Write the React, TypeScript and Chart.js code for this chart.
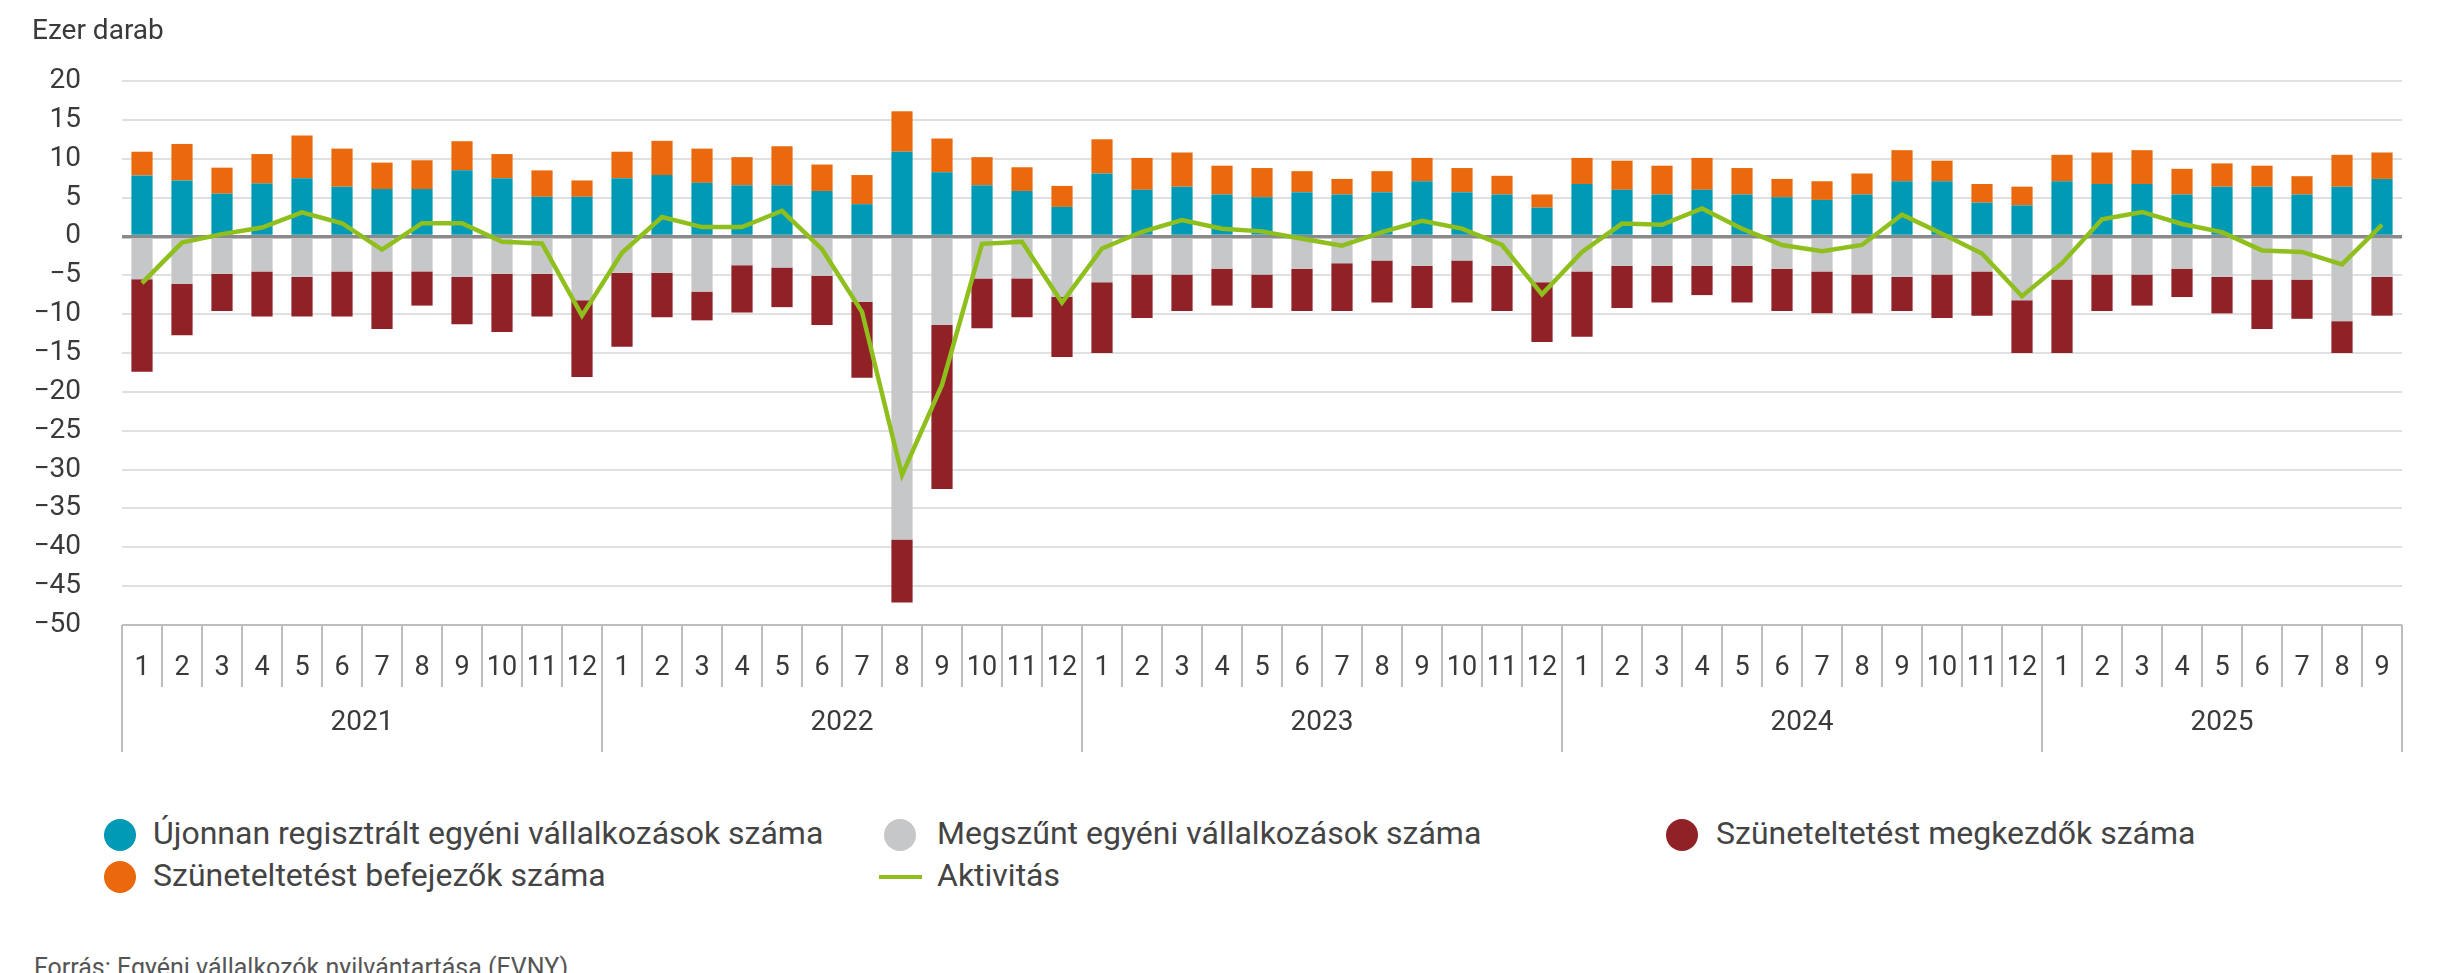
import React, { useEffect, useRef } from 'react';
import { Chart, registerables } from 'chart.js';

Chart.register(...registerables);

// ---- data ----
const years = ['2021', '2022', '2023', '2024', '2025'];
const monthsPerYear = [12, 12, 12, 12, 9];

// Újonnan regisztrált egyéni vállalkozások száma (ezer)
const newRegistered = [
  7.85, 7.2, 5.5, 6.8, 7.5, 6.4, 6.1, 6.1, 8.5, 7.5, 5.1, 5.1,
  7.5, 7.9, 6.9, 6.6, 6.6, 5.85, 4.15, 10.9, 8.25, 6.6, 5.85, 3.8,
  8.1, 6.0, 6.4, 5.4, 5.05, 5.7, 5.4, 5.7, 7.1, 5.7, 5.4, 3.7,
  6.75, 6.0, 5.4, 6.0, 5.4, 5.05, 4.7, 5.4, 7.1, 7.1, 4.35, 4.0,
  7.1, 6.75, 6.75, 5.4, 6.4, 6.4, 5.4, 6.4, 7.4,
];
// Megszűnt egyéni vállalkozások száma (ezer)
const closed = [
  -5.5, -6.1, -4.8, -4.5, -5.2, -4.5, -4.5, -4.5, -5.2, -4.8, -4.8, -8.2,
  -4.7, -4.7, -7.1, -3.7, -4.0, -5.05, -8.4, -39.0, -11.4, -5.4, -5.4, -7.8,
  -5.9, -4.9, -4.9, -4.15, -4.9, -4.15, -3.45, -3.1, -3.8, -3.1, -3.8, -5.9,
  -4.5, -3.8, -3.8, -3.8, -3.8, -4.15, -4.5, -4.9, -5.2, -4.9, -4.5, -8.2,
  -5.55, -4.9, -4.9, -4.15, -5.2, -5.55, -5.55, -10.9, -5.2,
];
// Szüneteltetést megkezdők száma (ezer)
const pauseStarted = [
  -11.9, -6.6, -4.8, -5.8, -5.1, -5.8, -7.4, -4.4, -6.1, -7.5, -5.5, -9.9,
  -9.5, -5.7, -3.7, -6.1, -5.1, -6.35, -9.8, -8.1, -21.1, -6.4, -5.0, -7.7,
  -9.1, -5.6, -4.7, -4.75, -4.3, -5.45, -6.15, -5.4, -5.4, -5.4, -5.8, -7.7,
  -8.4, -5.4, -4.7, -3.75, -4.7, -5.45, -5.4, -5.0, -4.4, -5.6, -5.7, -6.8,
  -9.45, -4.7, -4.0, -3.65, -4.7, -6.35, -5.05, -4.1, -5.0,
];
// Szüneteltetést befejezők száma (ezer)
const pauseEnded = [
  3.05, 4.7, 3.35, 3.8, 5.5, 4.9, 3.4, 3.7, 3.75, 3.1, 3.4, 2.1,
  3.4, 4.4, 4.4, 3.6, 5.0, 3.4, 3.75, 5.2, 4.35, 3.6, 3.05, 2.7,
  4.4, 4.1, 4.4, 3.7, 3.75, 2.7, 2.0, 2.7, 3.0, 3.1, 2.4, 1.7,
  3.35, 3.75, 3.7, 4.1, 3.4, 2.35, 2.4, 2.7, 4.0, 2.65, 2.4, 2.4,
  3.4, 4.05, 4.35, 3.3, 3.0, 2.7, 2.35, 4.1, 3.4,
];
// Aktivitás (ezer)
const activity = [
  -6.0, -0.8, 0.3, 1.15, 3.1, 1.7, -1.7, 1.7, 1.7, -0.7, -0.9, -10.2,
  -2.1, 2.5, 1.2, 1.2, 3.3, -1.65, -9.7, -30.7, -19.1, -0.95, -0.7, -8.5,
  -1.55, 0.6, 2.1, 1.0, 0.65, -0.3, -1.2, 0.55, 2.0, 1.0, -1.1, -7.45,
  -2.0, 1.65, 1.5, 3.6, 1.0, -1.1, -1.9, -1.1, 2.8, 0.35, -2.2, -7.7,
  -3.45, 2.2, 3.15, 1.6, 0.55, -1.8, -2.0, -3.6, 1.5,
];

const seriesNames = [
  'Újonnan regisztrált egyéni vállalkozások száma',
  'Megszűnt egyéni vállalkozások száma',
  'Szüneteltetést megkezdők száma',
  'Szüneteltetést befejezők száma',
  'Aktivitás',
];
const colors = ['#0099b6', '#c6c7c9', '#8f2127', '#e9690c', '#8fbf1c'];

const monthLabels: string[] = [];
const categories: string[] = [];
years.forEach((y, yi) => {
  for (let m = 1; m <= monthsPerYear[yi]; m++) {
    monthLabels.push(String(m));
    categories.push(`${y}.${m}`);
  }
});

const FONT = 'Roboto, "Noto Sans", sans-serif';

const axisTablePlugin = {
  id: 'axisTable',
  afterDraw(chart: any) {
    const { ctx, chartArea } = chart;
    const x = chart.scales.x;
    const n = categories.length;
    const step = x.getPixelForValue(1) - x.getPixelForValue(0);
    const top = chartArea.bottom;
    const monthBottom = 687;
    const yearBottom = 752;
    const yearStarts = new Set<number>();
    let acc = 0;
    monthsPerYear.forEach((c) => { yearStarts.add(acc); acc += c; });
    yearStarts.add(acc);

    ctx.save();
    ctx.strokeStyle = '#bdbdbd';
    ctx.lineWidth = 2;
    ctx.beginPath();
    ctx.moveTo(chartArea.left, top);
    ctx.lineTo(chartArea.right, top);
    ctx.stroke();
    for (let i = 0; i <= n; i++) {
      const px = Math.round(x.getPixelForValue(Math.min(i, n - 1)) + (i === n ? step / 2 : -step / 2));
      ctx.beginPath();
      ctx.moveTo(px, top);
      ctx.lineTo(px, yearStarts.has(i) ? yearBottom : monthBottom);
      ctx.stroke();
    }
    ctx.fillStyle = '#3a3a3a';
    ctx.textAlign = 'center';
    ctx.textBaseline = 'alphabetic';
    ctx.font = `27px ${FONT}`;
    for (let i = 0; i < n; i++) {
      ctx.fillText(monthLabels[i], x.getPixelForValue(i), 675);
    }
    ctx.font = `28px ${FONT}`;
    let start = 0;
    years.forEach((y, yi) => {
      const end = start + monthsPerYear[yi] - 1;
      const cx = (x.getPixelForValue(start) + x.getPixelForValue(end)) / 2;
      ctx.fillText(y, cx, 730);
      start += monthsPerYear[yi];
    });
    ctx.restore();
  },
};

export default function App() {
  const canvasRef = useRef<HTMLCanvasElement | null>(null);

  useEffect(() => {
    if (!canvasRef.current) return;
    const chart = new Chart(canvasRef.current, {
      type: 'bar',
      data: {
        labels: categories,
        datasets: [
          { label: seriesNames[0], data: newRegistered, backgroundColor: colors[0], stack: 'bars', barPercentage: 0.53, categoryPercentage: 1 },
          { label: seriesNames[1], data: closed, backgroundColor: colors[1], stack: 'bars', barPercentage: 0.53, categoryPercentage: 1 },
          { label: seriesNames[2], data: pauseStarted, backgroundColor: colors[2], stack: 'bars', barPercentage: 0.53, categoryPercentage: 1 },
          { label: seriesNames[3], data: pauseEnded, backgroundColor: colors[3], stack: 'bars', barPercentage: 0.53, categoryPercentage: 1 },
          {
            type: 'line',
            label: seriesNames[4],
            data: activity,
            borderColor: colors[4],
            backgroundColor: colors[4],
            borderWidth: 4.5,
            pointRadius: 0,
            tension: 0,
            stack: 'line',
            order: -1,
          } as any,
        ],
      },
      options: {
        animation: false,
        responsive: false,
        maintainAspectRatio: false,
        devicePixelRatio: 1,
        layout: { padding: { top: 81, left: 0, right: 52, bottom: 155 } },
        plugins: { legend: { display: false }, tooltip: { enabled: false } },
        scales: {
          x: { display: false, stacked: true, offset: true },
          y: {
            stacked: true,
            min: -50,
            max: 20,
            afterFit: (s: any) => { s.width = 122; },
            border: { display: false },
            grid: {
              drawTicks: false,
              color: (c: any) => (c.tick && c.tick.value === 0 ? '#8a8a8a' : '#e0e0e0'),
              lineWidth: (c: any) => (c.tick && c.tick.value === 0 ? 3.5 : 2),
            },
            ticks: {
              stepSize: 5,
              padding: 41,
              color: '#3a3a3a',
              font: { family: FONT, size: 28 },
              callback: (v: any) => (Number(v) < 0 ? '\u2212' + Math.abs(Number(v)) : String(v)),
            },
          },
        },
      },
      plugins: [axisTablePlugin],
    });
    return () => chart.destroy();
  }, []);

  const legendText: React.CSSProperties = {
    position: 'absolute',
    fontSize: 32,
    lineHeight: '32px',
    color: '#444',
    whiteSpace: 'nowrap',
  };
  const dot = (cx: number, cy: number, color: string) => (
    <div style={{ position: 'absolute', left: cx - 16, top: cy - 16, width: 32, height: 32, borderRadius: '50%', background: color }} />
  );

  return (
    <div style={{ position: 'fixed', left: 0, top: 0, width: 2454, height: 973, overflow: 'hidden', background: '#fff', fontFamily: FONT }}>
      <canvas ref={canvasRef} width={2454} height={780} style={{ position: 'absolute', left: 0, top: 0, width: 2454, height: 780 }} />
      <div style={{ position: 'absolute', left: 32, top: 16, fontSize: 28, lineHeight: '28px', color: '#3a3a3a', whiteSpace: 'nowrap' }}>Ezer darab</div>

      {dot(120, 835, colors[0])}
      <div style={{ ...legendText, left: 153, top: 817 }}>{seriesNames[0]}</div>
      {dot(900, 835, colors[1])}
      <div style={{ ...legendText, left: 937, top: 817 }}>{seriesNames[1]}</div>
      {dot(1682, 835, colors[2])}
      <div style={{ ...legendText, left: 1716, top: 817 }}>{seriesNames[2]}</div>
      {dot(120, 877, colors[3])}
      <div style={{ ...legendText, left: 153, top: 859 }}>{seriesNames[3]}</div>
      <div style={{ position: 'absolute', left: 879, top: 875, width: 43, height: 4, background: colors[4] }} />
      <div style={{ ...legendText, left: 937, top: 859 }}>{seriesNames[4]}</div>

      <div style={{ position: 'absolute', left: 34, top: 955, fontSize: 25, lineHeight: '25px', color: '#555', whiteSpace: 'nowrap' }}>
        Forrás: Egyéni vállalkozók nyilvántartása (EVNY).
      </div>
    </div>
  );
}
